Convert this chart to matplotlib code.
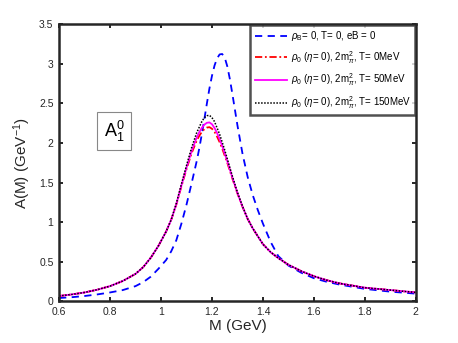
import matplotlib
matplotlib.use("Agg")
import matplotlib.pyplot as plt

plt.rcParams['font.family'] = ['Liberation Sans', 'DejaVu Sans']
plt.rcParams['mathtext.fontset'] = 'custom'
plt.rcParams['mathtext.rm'] = 'Liberation Sans'
plt.rcParams['mathtext.it'] = 'Liberation Sans:italic'

M = [0.6, 0.65, 0.7, 0.75, 0.8, 0.85, 0.9, 0.93, 0.96, 0.99, 1.02, 1.04, 1.06, 1.08,
     1.1, 1.12, 1.14, 1.15, 1.16, 1.17, 1.18, 1.19, 1.2, 1.21, 1.22, 1.23, 1.24, 1.25,
     1.26, 1.27, 1.28, 1.3, 1.32, 1.34, 1.36, 1.38, 1.4, 1.43, 1.46, 1.5, 1.55, 1.6,
     1.65, 1.7, 1.8, 1.9, 2.0]

A_vac = [0.04, 0.05, 0.065, 0.085, 0.11, 0.14, 0.19, 0.24, 0.31, 0.41, 0.52, 0.63, 0.77, 0.98,
         1.22, 1.49, 1.77, 1.93, 2.11, 2.30, 2.50, 2.69, 2.85, 2.98, 3.07, 3.12, 3.125, 3.08,
         2.97, 2.81, 2.62, 2.22, 1.86, 1.57, 1.34, 1.15, 0.98, 0.75, 0.57, 0.45, 0.36, 0.29,
         0.245, 0.21, 0.155, 0.12, 0.095]
A_T0 = [0.065, 0.085, 0.11, 0.145, 0.19, 0.255, 0.345, 0.43, 0.55, 0.70, 0.88, 1.03, 1.22, 1.45,
        1.67, 1.87, 2.03, 2.09, 2.14, 2.175, 2.195, 2.20, 2.18, 2.14, 2.08, 2.01, 1.93, 1.84,
        1.75, 1.65, 1.55, 1.36, 1.19, 1.04, 0.92, 0.82, 0.72, 0.62, 0.545, 0.46, 0.38, 0.315,
        0.265, 0.225, 0.17, 0.14, 0.11]
A_T50 = [0.065, 0.085, 0.11, 0.145, 0.19, 0.255, 0.345, 0.43, 0.55, 0.70, 0.88, 1.03, 1.226, 1.462,
         1.688, 1.897, 2.069, 2.135, 2.191, 2.232, 2.255, 2.26, 2.237, 2.19, 2.125, 2.05, 1.963, 1.867,
         1.77, 1.667, 1.562, 1.366, 1.193, 1.04, 0.92, 0.82, 0.72, 0.62, 0.545, 0.46, 0.38, 0.315,
         0.265, 0.225, 0.17, 0.14, 0.11]
A_T150 = [0.065, 0.085, 0.11, 0.145, 0.19, 0.255, 0.345, 0.43, 0.55, 0.70, 0.88, 1.03, 1.235, 1.48,
          1.715, 1.94, 2.13, 2.20, 2.27, 2.32, 2.345, 2.35, 2.32, 2.27, 2.19, 2.11, 2.01, 1.91,
          1.80, 1.69, 1.58, 1.375, 1.198, 1.04, 0.92, 0.82, 0.72, 0.62, 0.545, 0.46, 0.38, 0.315,
          0.265, 0.225, 0.17, 0.14, 0.11]

labels = [r'$\rho_{\rm B}$= 0, T= 0, eB = 0',
          r'$\rho_0$ ($\eta$= 0), 2m$_\pi^2$, T= 0MeV',
          r'$\rho_0$ ($\eta$= 0), 2m$_\pi^2$, T= 50MeV',
          r'$\rho_0$ ($\eta$= 0), 2m$_\pi^2$, T= 150MeV']

xticks = [0.6, 0.8, 1.0, 1.2, 1.4, 1.6, 1.8, 2.0]
xticklabels = ['0.6', '0.8', '1', '1.2', '1.4', '1.6', '1.8', '2']
yticks = [0, 0.5, 1, 1.5, 2, 2.5, 3, 3.5]
yticklabels = ['0', '0.5', '1', '1.5', '2', '2.5', '3', '3.5']

fig = plt.figure(figsize=(4.58, 3.43), dpi=100)
ax = fig.add_axes([0.129, 0.122, 0.779, 0.807])

ax.plot(M, A_vac, color='#0000ff', ls=(0, (4, 3)), lw=1.3, label=labels[0])
ax.plot(M, A_T0, color='#ff0000', ls=(0, (4, 1.5, 1, 1.5)), lw=1.3, label=labels[1])
ax.plot(M, A_T50, color='#ff00ff', ls='-', lw=1.3, label=labels[2])
ax.plot(M, A_T150, color='black', ls=(0, (1, 1)), lw=1.1, label=labels[3])

ax.set_xlim(0.6, 2.0)
ax.set_ylim(0, 3.5)
ax.set_xticks(xticks)
ax.set_xticklabels(xticklabels)
ax.set_yticks(yticks)
ax.set_yticklabels(yticklabels)
ax.tick_params(direction='in', top=True, right=True, length=3, width=1.2,
               labelsize=7.5, labelcolor='#262626', pad=4)
for s in ax.spines.values():
    s.set_linewidth(1.8)
    s.set_color('#262626')

ax.set_xlabel('M (GeV)', fontsize=11, color='#262626', labelpad=2)
ax.set_ylabel(r'A(M) (GeV$^{-1}$)', fontsize=11, color='#262626', labelpad=4)

ax.text(0.816, 2.15, r'A$_1^0$', fontsize=13, ha='center', va='center',
        bbox=dict(boxstyle='square,pad=0.35', fc='white', ec='#888888', lw=0.8))

leg = ax.legend(loc='upper right', fontsize=7, frameon=True, fancybox=False,
                borderaxespad=0.05, handlelength=3.3, handletextpad=0.4,
                labelspacing=0.6, borderpad=0.45)
leg.get_frame().set_edgecolor('#262626')
leg.get_frame().set_linewidth(1.8)

fig.savefig('out.png', dpi=100)
